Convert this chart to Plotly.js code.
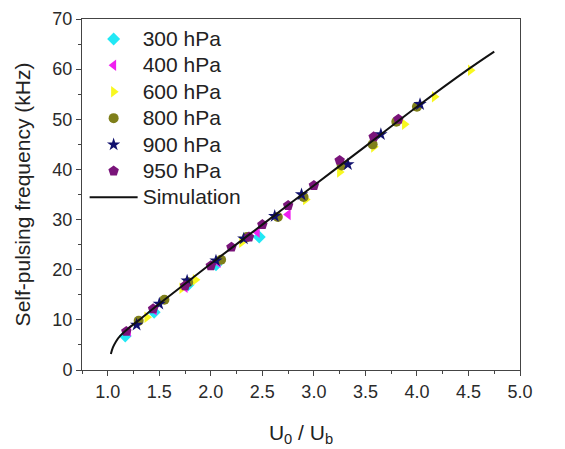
<!DOCTYPE html>
<html>
<head>
<meta charset="utf-8">
<script src="https://cdn.plot.ly/plotly-3.0.1.min.js"></script>
<style>
  html, body { margin: 0; padding: 0; background: #fff; }
  #chart { width: 565px; height: 449px; }
</style>
</head>
<body>
<div id="chart"></div>
<script>
// Measured self-pulsing frequency (kHz) versus normalised voltage U0/Ub
const p300_x = [1.17, 1.45, 1.78, 2.05, 2.47];
const p300_y = [6.8, 11.5, 17.0, 21.0, 26.5];

const p400_x = [1.20, 1.45, 1.75, 2.07, 2.45, 2.75];
const p400_y = [7.8, 12.0, 16.5, 21.5, 27.5, 31.0];

const p600_x = [1.38, 1.72, 1.85, 2.30, 2.92, 3.25, 3.58, 3.88, 4.17, 4.52];
const p600_y = [10.5, 16.3, 18.0, 25.5, 34.0, 39.5, 44.5, 49.0, 54.5, 59.8];

const p800_x = [1.30, 1.55, 1.78, 2.10, 2.35, 2.65, 2.90, 3.27, 3.57, 3.80, 4.00];
const p800_y = [9.8, 14.0, 17.5, 22.0, 26.5, 30.5, 34.5, 40.8, 45.0, 49.5, 52.5];

const p900_x = [1.28, 1.50, 1.77, 2.05, 2.32, 2.62, 2.88, 3.33, 3.65, 4.03];
const p900_y = [9.0, 13.2, 17.8, 21.8, 26.2, 30.7, 35.0, 41.0, 47.0, 53.0];

const p950_x = [1.18, 1.44, 1.75, 2.00, 2.20, 2.37, 2.50, 2.75, 3.00, 3.25, 3.58, 3.82];
const p950_y = [7.7, 12.2, 16.8, 20.8, 24.5, 26.5, 29.0, 32.8, 36.8, 41.8, 46.5, 50.0];

// Simulated curve
const sim_x = [1.03, 1.05, 1.08, 1.12, 1.20, 1.30, 1.50, 1.75, 2.00, 2.50, 3.00, 3.50, 4.00, 4.50, 4.75];
const sim_y = [3.2, 4.5, 5.7, 6.8, 8.3, 9.9, 13.2, 17.2, 21.2, 29.0, 36.8, 44.6, 52.5, 60.0, 63.5];

const seriesNames = ['300 hPa', '400 hPa', '600 hPa', '800 hPa', '900 hPa', '950 hPa'];
const seriesX = [p300_x, p400_x, p600_x, p800_x, p900_x, p950_x];
const seriesY = [p300_y, p400_y, p600_y, p800_y, p900_y, p950_y];
const seriesColor = ['#22e8f5', '#f020f0', '#f8f820', '#7f7f1a', '#10106e', '#7a147a'];
const seriesSymbol = ['diamond', 'triangle-left', 'triangle-right', 'circle', 'star', 'pentagon'];
const seriesSize = [10, 10, 10, 10, 10, 11];

// Legend labels are drawn a little larger than the row pitch the legend uses
const big = s => '<span style="font-size:21px">' + s + '</span>';

const traces = seriesNames.map((name, i) => ({
  type: 'scatter',
  mode: 'markers',
  name: big(name),
  x: seriesX[i],
  y: seriesY[i],
  marker: { symbol: seriesSymbol[i], color: seriesColor[i], size: seriesSize[i], line: { width: 0 } }
}));

traces.push({
  type: 'scatter',
  mode: 'lines',
  name: big('Simulation'),
  x: sim_x,
  y: sim_y,
  line: { color: '#111', width: 2, shape: 'spline' }
});

const FONT = 'Liberation Sans, Arial, sans-serif';
const axisFont = { family: FONT, size: 18, color: '#2a2a2a' };

const layout = {
  width: 565,
  height: 449,
  margin: { l: 82, r: 45, t: 19, b: 79 },
  paper_bgcolor: '#fff',
  plot_bgcolor: '#fff',
  showlegend: true,
  legend: {
    x: 0.006, y: 0.995, xanchor: 'left', yanchor: 'top',
    itemwidth: 48,
    bgcolor: 'rgba(255,255,255,0)',
    font: { family: FONT, size: 18, color: '#222' }
  },
  xaxis: {
    range: [0.75, 5.0],
    tick0: 1.0, dtick: 0.5, tickformat: '.1f',
    ticks: 'outside', ticklen: 5, tickwidth: 1, tickcolor: '#444',
    minor: { dtick: 0.25, ticks: 'outside', ticklen: 3, tickcolor: '#444' },
    showline: true, linecolor: '#444', linewidth: 1, mirror: true,
    showgrid: false, zeroline: false,
    tickfont: axisFont,
    title: { text: 'U<sub>0</sub> / U<sub>b</sub>', font: { family: FONT, size: 21, color: '#222' }, standoff: 24 }
  },
  yaxis: {
    range: [0, 70],
    dtick: 10,
    ticks: 'outside', ticklen: 5, tickwidth: 1, tickcolor: '#444',
    minor: { dtick: 5, ticks: 'outside', ticklen: 3, tickcolor: '#444' },
    showline: true, linecolor: '#444', linewidth: 1, mirror: true,
    showgrid: false, zeroline: false,
    tickfont: axisFont,
    title: { text: 'Self-pulsing frequency (kHz)', font: { family: FONT, size: 21, color: '#222' }, standoff: 16 }
  }
};

Plotly.newPlot('chart', traces, layout, { displayModeBar: false, staticPlot: true });
</script>
</body>
</html>
